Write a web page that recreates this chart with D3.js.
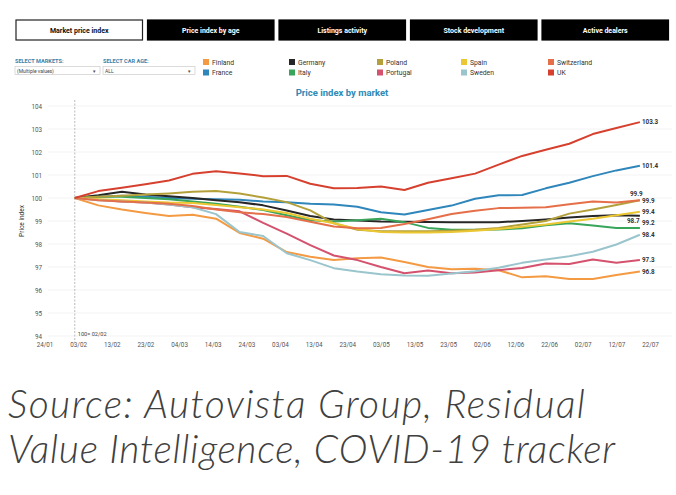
<!DOCTYPE html>
<html lang="en">
<head>
<meta charset="UTF-8">
<title>Price index by market</title>
<script src="https://cdn.jsdelivr.net/npm/d3@7"></script>
<style>
  body { margin: 0; background: #fff; }
  svg { display: block; }
</style>
</head>
<body>
<div id="chart"></div>
<script>
// weekly observation dates (index = 100 on 02/02)
const weeks = ["2020-02-02", "2020-02-09", "2020-02-16", "2020-02-23", "2020-03-01",
  "2020-03-08", "2020-03-15", "2020-03-22", "2020-03-29", "2020-04-05", "2020-04-12",
  "2020-04-19", "2020-04-26", "2020-05-03", "2020-05-10", "2020-05-17", "2020-05-24",
  "2020-05-31", "2020-06-07", "2020-06-14", "2020-06-21", "2020-06-28", "2020-07-05",
  "2020-07-12", "2020-07-19"];

const finland = [100, 99.68, 99.5, 99.35, 99.22, 99.27, 99.1, 98.48, 98.23, 97.65, 97.45, 97.3, 97.38, 97.41, 97.22, 97.0, 96.9, 96.92, 96.86, 96.55, 96.6, 96.48, 96.48, 96.65, 96.8];
const france = [100, 100.05, 100.1, 100.05, 100.0, 99.97, 99.95, 99.92, 99.85, 99.82, 99.75, 99.72, 99.62, 99.38, 99.28, 99.48, 99.67, 99.97, 100.12, 100.13, 100.42, 100.66, 100.95, 101.2, 101.4];
const germany = [100, 100.12, 100.27, 100.15, 100.08, 100.0, 99.9, 99.82, 99.68, 99.46, 99.22, 99.07, 99.02, 98.98, 98.97, 98.96, 98.95, 98.95, 98.95, 99.0, 99.07, 99.15, 99.22, 99.25, 99.23];
const italy = [100, 100.05, 100.05, 100.0, 99.95, 99.85, 99.75, 99.62, 99.48, 99.25, 99.03, 98.98, 99.03, 99.1, 98.95, 98.7, 98.62, 98.62, 98.63, 98.68, 98.82, 98.9, 98.8, 98.7, 98.7];
const poland = [100, 100.05, 100.1, 100.15, 100.2, 100.27, 100.3, 100.2, 100.02, 99.82, 99.46, 98.9, 98.62, 98.55, 98.55, 98.55, 98.58, 98.62, 98.7, 98.85, 99.0, 99.32, 99.5, 99.7, 99.9];
const portugal = [100, 99.92, 99.85, 99.8, 99.72, 99.6, 99.52, 99.42, 98.92, 98.45, 97.95, 97.5, 97.3, 97.0, 96.73, 96.85, 96.73, 96.76, 96.86, 96.96, 97.15, 97.13, 97.33, 97.18, 97.3];
const spain = [100, 99.95, 99.9, 99.85, 99.8, 99.78, 99.7, 99.6, 99.5, 99.35, 99.1, 98.9, 98.65, 98.52, 98.5, 98.5, 98.52, 98.58, 98.65, 98.75, 98.85, 98.98, 99.1, 99.25, 99.4];
const sweden = [100, 99.9, 99.85, 99.8, 99.72, 99.6, 99.3, 98.52, 98.35, 97.6, 97.3, 96.95, 96.8, 96.68, 96.63, 96.62, 96.72, 96.82, 96.97, 97.18, 97.33, 97.47, 97.66, 97.98, 98.4];
const switzerland = [100, 99.9, 99.85, 99.8, 99.75, 99.65, 99.5, 99.38, 99.3, 99.17, 98.97, 98.76, 98.68, 98.7, 98.87, 99.08, 99.3, 99.45, 99.56, 99.58, 99.6, 99.73, 99.85, 99.8, 99.9];
const uk = [100, 100.3, 100.45, 100.6, 100.76, 101.05, 101.16, 101.07, 100.95, 100.96, 100.62, 100.42, 100.44, 100.5, 100.35, 100.66, 100.86, 101.06, 101.45, 101.83, 102.1, 102.36, 102.78, 103.04, 103.3];

const markets = ["Finland", "France", "Germany", "Italy", "Poland", "Portugal", "Spain", "Sweden", "Switzerland", "UK"];
const seriesValues = [finland, france, germany, italy, poland, portugal, spain, sweden, switzerland, uk];

const tickDates = ["2020-01-24", "2020-02-03", "2020-02-13", "2020-02-23", "2020-03-04",
  "2020-03-14", "2020-03-24", "2020-04-03", "2020-04-13", "2020-04-23", "2020-05-03",
  "2020-05-13", "2020-05-23", "2020-06-02", "2020-06-12", "2020-06-22", "2020-07-02",
  "2020-07-12", "2020-07-22"];
const yTicks = [94, 95, 96, 97, 98, 99, 100, 101, 102, 103, 104];
const tabs = ["Market price index", "Price index by age", "Listings activity", "Stock development", "Active dealers"];

// styling
const colors = {
  Finland: "#f39a43", France: "#2f86bb", Germany: "#262626", Italy: "#38a55a",
  Poland: "#b4a03a", Portugal: "#d4526d", Spain: "#ebc733", Sweden: "#9ac5cc",
  Switzerland: "#e56f48", UK: "#d6402e"
};
// end label nudges (label collision like the original)
const labelNudge = {
  Switzerland: [-12, -7], Italy: [-15, -7], Germany: [0, 7]
};

const W = 676, H = 495;
const parse = d3.timeParse("%Y-%m-%d");
const fmt = d3.timeFormat("%d/%m");

const svg = d3.select("#chart").append("svg")
  .attr("width", W).attr("height", H)
  .style("font-family", "Roboto, 'Liberation Sans', Arial, sans-serif");

// tab bar
const tabW = 126.5, tabGap = 5, tabX = 16, tabY = 20, tabH = 20;
const tabG = svg.append("g").selectAll("g").data(tabs).join("g")
  .attr("transform", (d, i) => `translate(${tabX + i * (tabW + tabGap)},${tabY})`);
tabG.append("rect")
  .attr("width", tabW).attr("height", tabH)
  .attr("fill", (d, i) => i === 0 ? "#fff" : "#000")
  .attr("stroke", (d, i) => i === 0 ? "#222" : "#000")
  .attr("stroke-width", 1.2);
tabG.append("text")
  .attr("x", tabW / 2).attr("y", tabH / 2 + 2.5)
  .attr("text-anchor", "middle")
  .attr("font-size", 7).attr("font-weight", 700)
  .attr("fill", (d, i) => i === 0 ? "#111" : "#fff")
  .text(d => d);

// selectors
const sel = [
  { label: "SELECT MARKETS:", value: "(Multiple values)", x: 15, w: 85 },
  { label: "SELECT CAR AGE:", value: "ALL", x: 103, w: 92 }
];
const selG = svg.append("g").selectAll("g").data(sel).join("g")
  .attr("transform", d => `translate(${d.x},0)`);
selG.append("text")
  .attr("x", 0).attr("y", 63)
  .attr("font-size", 5.6).attr("font-weight", 700).attr("fill", "#3b7fa8")
  .text(d => d.label);
selG.append("rect")
  .attr("x", 0).attr("y", 66.5).attr("width", d => d.w).attr("height", 8)
  .attr("fill", "#fff").attr("stroke", "#ccc").attr("stroke-width", 0.7);
selG.append("text")
  .attr("x", 2).attr("y", 72.5)
  .attr("font-size", 5).attr("fill", "#444")
  .text(d => d.value);
selG.append("text")
  .attr("x", d => d.w - 8).attr("y", 72.5)
  .attr("font-size", 4.5).attr("fill", "#555")
  .text("▼");

// legend: two rows, five columns
const legX = [203, 289, 377, 461, 548];
const legG = svg.append("g").selectAll("g").data(markets).join("g")
  .attr("transform", (d, i) => `translate(${legX[Math.floor(i / 2)]},${i % 2 === 0 ? 59 : 69.5})`);
legG.append("rect")
  .attr("width", 6).attr("height", 6)
  .attr("fill", d => colors[d]);
legG.append("text")
  .attr("x", 9).attr("y", 5.5)
  .attr("font-size", 6.8).attr("fill", "#333")
  .text(d => d);

// title
svg.append("text")
  .attr("x", 342).attr("y", 96)
  .attr("text-anchor", "middle")
  .attr("font-size", 9.5).attr("font-weight", 700).attr("fill", "#2f8ab5")
  .text("Price index by market");

// scales
const x = d3.scaleTime()
  .domain([parse(tickDates[0]), parse(tickDates[tickDates.length - 1])])
  .range([44.5, 650]);
const y = d3.scaleLinear().domain([94, 104]).range([336, 106]);

// gridlines
svg.append("g").selectAll("line").data(yTicks).join("line")
  .attr("x1", 48).attr("x2", 672)
  .attr("y1", d => y(d)).attr("y2", d => y(d))
  .attr("stroke", "#f0f0f0").attr("stroke-width", 0.8);

// y axis labels
const yAxis = svg.append("g")
  .attr("transform", "translate(44,0)")
  .call(d3.axisLeft(y).tickValues(yTicks).tickSize(0).tickPadding(2));
yAxis.select(".domain").remove();
yAxis.selectAll("text")
  .attr("font-size", 6.3).attr("fill", "#555")
  .attr("font-family", "Roboto, 'Liberation Sans', Arial, sans-serif");

svg.append("text")
  .attr("transform", `translate(24,${y(99)}) rotate(-90)`)
  .attr("text-anchor", "middle")
  .attr("font-size", 6.5).attr("fill", "#333")
  .text("Price index");

// x axis labels
const xAxis = svg.append("g")
  .attr("transform", "translate(0,341)")
  .call(d3.axisBottom(x).tickValues(tickDates.map(parse)).tickFormat(fmt).tickSize(0).tickPadding(2));
xAxis.select(".domain").remove();
xAxis.selectAll("text")
  .attr("font-size", 6.3).attr("fill", "#555")
  .attr("font-family", "Roboto, 'Liberation Sans', Arial, sans-serif");

// base date reference line
const baseX = x(parse(weeks[0]));
svg.append("line")
  .attr("x1", baseX).attr("x2", baseX)
  .attr("y1", 100).attr("y2", 343)
  .attr("stroke", "#aaa").attr("stroke-width", 0.8)
  .attr("stroke-dasharray", "2,1.5");
svg.append("text")
  .attr("x", baseX + 3).attr("y", 336)
  .attr("font-size", 5.6).attr("fill", "#444")
  .text("100= " + fmt(parse(weeks[0])));

// lines
const series = markets.map((m, i) => ({
  name: m,
  values: seriesValues[i].map((v, j) => ({ date: parse(weeks[j]), value: v }))
}));
const line = d3.line()
  .x(d => x(d.date))
  .y(d => y(d.value));

svg.append("g").selectAll("path").data(series).join("path")
  .attr("fill", "none")
  .attr("stroke", d => colors[d.name])
  .attr("stroke-width", 2)
  .attr("stroke-linejoin", "round")
  .attr("d", d => line(d.values));

// end labels
svg.append("g").selectAll("text").data(series).join("text")
  .attr("x", d => x(d.values[d.values.length - 1].date) + 2 + (labelNudge[d.name] || [0, 0])[0])
  .attr("y", d => y(d.values[d.values.length - 1].value) + 2.2 + (labelNudge[d.name] || [0, 0])[1])
  .attr("font-size", 6.3).attr("font-weight", 700).attr("fill", "#333")
  .text(d => d3.format(".1f")(d.values[d.values.length - 1].value));

// source caption
const src = svg.append("text")
  .attr("font-family", "Lato, 'Open Sans', sans-serif")
  .attr("font-style", "italic").attr("font-weight", 300)
  .attr("font-size", 39).attr("fill", "#404040");
src.append("tspan").attr("x", 8).attr("y", 418)
  .attr("textLength", 577).attr("lengthAdjust", "spacing")
  .text("Source: Autovista Group, Residual");
src.append("tspan").attr("x", 8).attr("y", 463)
  .attr("textLength", 607).attr("lengthAdjust", "spacing")
  .text("Value Intelligence, COVID-19 tracker");
</script>
</body>
</html>
